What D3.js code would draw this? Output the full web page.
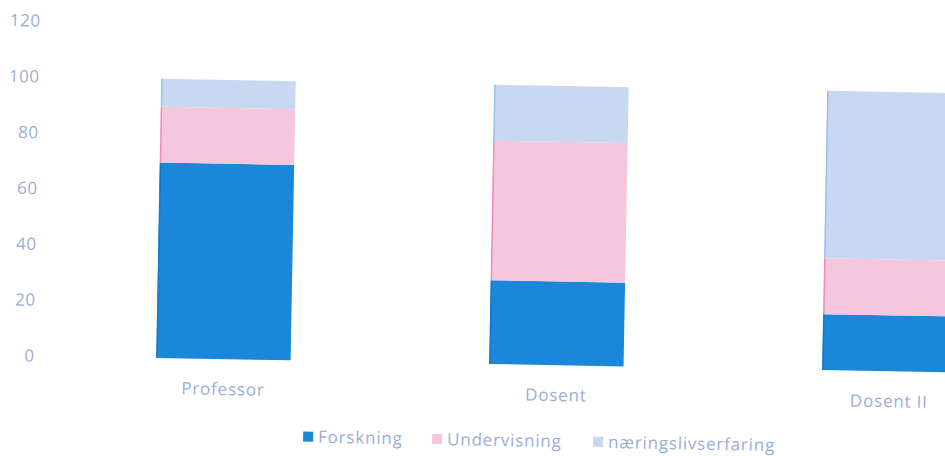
<!DOCTYPE html>
<html>
<head>
<meta charset="utf-8">
<script src="https://cdn.jsdelivr.net/npm/d3@7"></script>
<style>
  body { margin: 0; background: #fff; }
  text { font-family: "Open Sans", sans-serif; fill: #9badd6; }
</style>
</head>
<body>
<svg id="chart" width="945" height="456"></svg>
<script>
const categories = ["Professor", "Dosent", "Dosent II"];
const seriesNames = ["Forskning", "Undervisning", "næringslivserfaring"];
const forskning = [70, 30, 20];
const undervisning = [20, 50, 20];
const naeringsliv = [10, 20, 60];
const yTicks = [0, 20, 40, 60, 80, 100, 120];

const colors = ["#1a87d9", "#f4c7dd", "#c8d8f0"];
const edgeColors = ["#1479c8", "#f08db8", "#9cc0ec"];

const svg = d3.select("svg#chart");
// the reference is a scan, slightly tilted
const root = svg.append("g").attr("transform", "rotate(1.04)");

const rows = categories.map((c, i) => ({
    cat: c,
    "Forskning": forskning[i],
    "Undervisning": undervisning[i],
    "næringslivserfaring": naeringsliv[i]
}));
const stacked = d3.stack().keys(seriesNames)(rows);

const x = d3.scaleBand().domain(categories).range([61, 1065])
    .paddingInner(0.597).paddingOuter(0.306);
const y = d3.scaleLinear().domain([0, 120]).range([355, 20]);

// y tick labels only, no axis line or gridlines
root.append("g").selectAll("text")
    .data(yTicks)
    .join("text")
    .attr("x", 41)
    .attr("y", d => y(d))
    .attr("dy", "0.35em")
    .attr("text-anchor", "end")
    .style("font-size", "17px")
    .style("letter-spacing", "0.5px")
    .text(d => d);

root.append("g").selectAll("g")
    .data(stacked)
    .join("g")
    .attr("fill", (d, i) => colors[i])
    .each(function (s, i) {
        d3.select(this).selectAll("rect")
            .data(s)
            .join("rect")
            .attr("x", d => x(d.data.cat))
            .attr("y", d => y(d[1]))
            .attr("width", x.bandwidth())
            .attr("height", d => y(d[0]) - y(d[1]));
        // faint darker left edge like in the scan
        d3.select(this).selectAll("line")
            .data(s)
            .join("line")
            .attr("x1", d => x(d.data.cat) + 0.5)
            .attr("x2", d => x(d.data.cat) + 0.5)
            .attr("y1", d => y(d[1]))
            .attr("y2", d => y(d[0]))
            .style("stroke", edgeColors[i])
            .style("stroke-width", 1.5);
    });

root.append("g").selectAll("text")
    .data(categories)
    .join("text")
    .attr("x", d => x(d) + x.bandwidth() / 2)
    .attr("y", 385)
    .attr("dy", "0.35em")
    .attr("text-anchor", "middle")
    .style("font-size", "17px")
    .style("letter-spacing", "0.8px")
    .text(d => d);

// legend
const legendX = [311, 440, 601];
const legend = root.append("g").selectAll("g")
    .data(seriesNames)
    .join("g")
    .attr("transform", (d, i) => `translate(${legendX[i]},431)`);
legend.append("rect")
    .attr("x", 0).attr("y", -5)
    .attr("width", 10).attr("height", 10)
    .attr("fill", (d, i) => colors[i]);
legend.append("text")
    .attr("x", 15)
    .attr("dy", "0.35em")
    .style("font-size", "17px")
    .style("letter-spacing", "0.8px")
    .text(d => d);
</script>
</body>
</html>
